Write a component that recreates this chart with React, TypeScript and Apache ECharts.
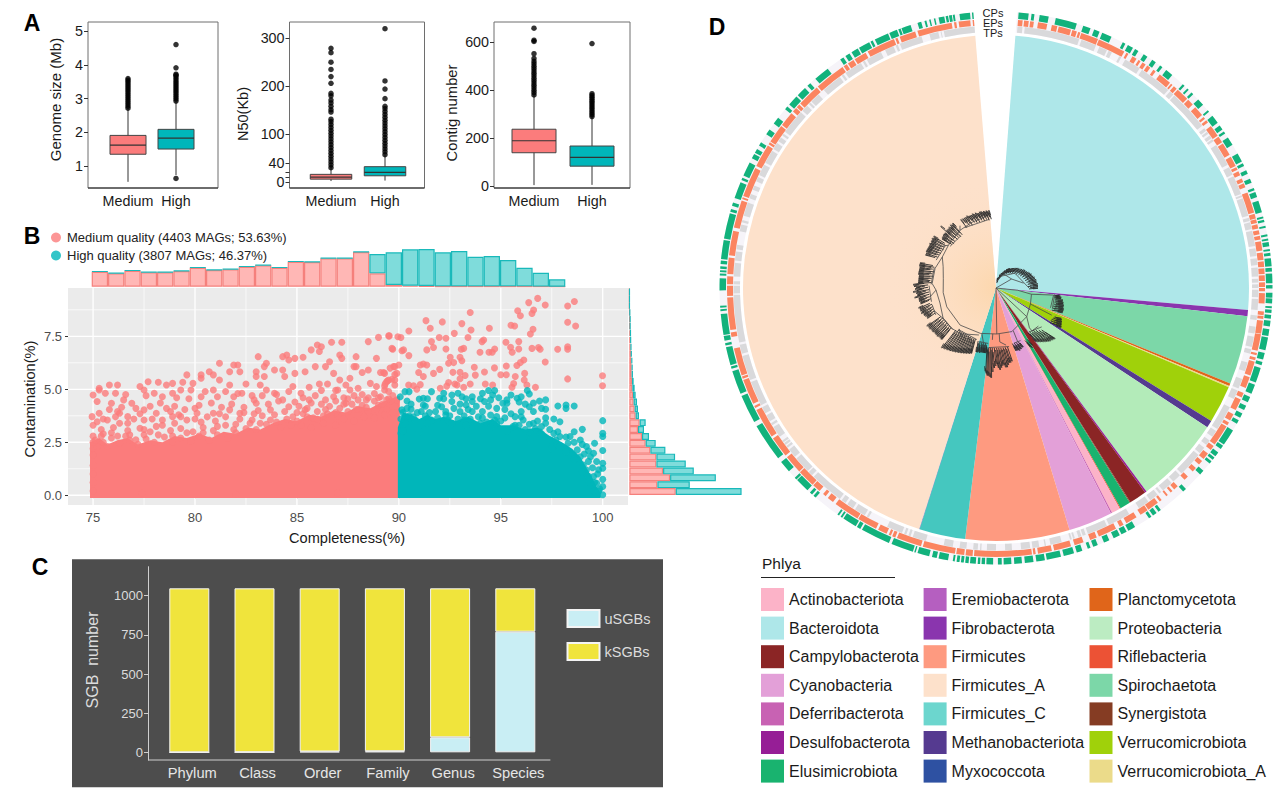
import React, { useEffect, useRef } from "react";
import * as echarts from "echarts";

const FONT = "Liberation Sans";
const PINK = "#fb7c7c";
const TEAL = "#00b6ba";

// ---------- Panel A ----------
const qualityCats = ["Medium", "High"];
const genomeBoxes = [[0, 0.53, 1.35, 1.62, 1.91, 2.71], [1, 0.73, 1.505, 1.83, 2.09, 2.91]];
const genomeOutMedium = [2.72, 2.78, 2.84, 2.9, 2.96, 3.02, 3.08, 3.14, 3.2, 3.26, 3.32, 3.38, 3.44, 3.5, 3.55, 3.6];
const genomeOutHigh = [0.63, 2.93, 2.99, 3.05, 3.11, 3.17, 3.23, 3.29, 3.35, 3.41, 3.47, 3.53, 3.59, 3.65, 3.7, 3.73, 3.92, 4.61];
const n50Boxes = [[0, 2, 6, 10, 16, 32], [1, 3, 13, 20, 32, 56]];
const n50OutMedium = [30, 36, 42, 48, 54, 60, 66, 72, 78, 84, 90, 96, 102, 108, 114, 120, 126, 131, 146, 151, 158, 165, 171, 180, 185, 206, 220, 235, 250, 270, 279];
const n50OutHigh = [57, 63, 69, 75, 81, 87, 93, 99, 105, 111, 117, 123, 129, 135, 141, 147, 153, 158, 174, 194, 211, 320];
const contigBoxes = [[0, 4, 139, 189, 237, 378], [1, 5, 83, 120, 167, 288]];
const contigOutMedium = [380, 390, 400, 410, 420, 430, 440, 450, 460, 470, 480, 490, 500, 510, 520, 532, 552, 603, 608, 658];
const contigOutHigh = [290, 298, 306, 314, 322, 330, 338, 346, 354, 362, 370, 378, 385, 594];
const n50TickValues = [0, 10, 20, 40, 100, 200, 300];
const n50LabelValues = [0, 40, 100, 200, 300];

// ---------- Panel B ----------
const completenessTicks = [75, 80, 85, 90, 95, 100];
const completenessMinor = [77.5, 82.5, 87.5, 92.5, 97.5];
const contaminationTicks = [0, 2.5, 5, 7.5];
const contaminationMinor = [1.25, 3.75, 6.25, 8.75];
const mediumMassTop = [[74.85, 2.5], [75.3, 2.7], [75.7, 2.4], [76.2, 2.6], [76.7, 2.7], [77.2, 2.4], [77.8, 2.6], [78.4, 2.5], [79, 2.8], [79.6, 2.7], [80.2, 2.9], [80.8, 2.7], [81.4, 3], [82, 2.9], [82.6, 3.2], [83.2, 3.1], [83.8, 3.4], [84.4, 3.6], [85, 3.5], [85.6, 3.8], [86.2, 3.7], [86.8, 4], [87.4, 3.9], [88, 4.2], [88.6, 4.1], [89.2, 4.4], [90.05, 4.7]];
const highMassTop = [[89.95, 3.2], [90.2, 3.9], [90.6, 3.8], [91, 3.6], [91.4, 3.8], [91.8, 3.6], [92.2, 3.7], [92.8, 3.5], [93.4, 3.7], [94, 3.4], [94.6, 3.6], [95, 3.3], [95.6, 3.3], [96.2, 3.1], [96.8, 3.2], [97.4, 2.8], [98, 2.5], [98.5, 2.2], [98.9, 1.8], [99.2, 1.3], [99.5, 0.8], [99.7, 0.4], [99.9, 0.1]];
const mediumPoints = [
  [75.3, 4.97], [75, 4.73], [75.3, 5.05], [75.8, 5.2], [76.2, 5.2], [75.6, 4.81], [76.1, 4.81], [75.9, 4.34], [76.5, 4.5], [76.9, 4.34], [77.1, 4.1], [75.2, 4.42], [74.95, 3.71], [75.3, 3.87], [75.7, 3.55], [75.2, 3.47], [76.3, 3.87], [76.7, 3.71], [77.5, 4.03], [77.3, 5.13], [77.7, 5.36], [77.5, 4.97], [78, 4.81], [78.2, 5.33], [78.6, 5.2], [78.9, 5.28], [79.4, 5.33], [79.6, 5.68], [78.9, 4.81], [79.3, 4.97], [79.8, 4.97], [80.3, 5.52], [80.3, 5.68], [79.9, 5.28], [80.7, 5.83], [81.2, 6.23], [80.9, 5.68], [81.2, 5.44], [81.7, 5.2], [81.9, 6.15], [82.1, 6.15], [82.2, 5.83], [81.7, 5.83], [82.5, 5.25], [82.3, 4.81], [83.1, 6.54], [83.4, 6.07], [83.5, 6.23], [83, 5.83], [83, 5.6], [83.4, 5.6], [83.2, 5.2], [83.9, 5.91], [84.3, 6.54], [84.5, 6.62], [84.3, 5.91], [84.6, 6.38], [84.9, 6.46], [85.3, 6.51], [84.4, 5.6], [84.9, 5.75], [84.8, 5.13], [85.4, 5.83], [85.7, 6.86], [86, 7.09], [86.2, 7.01], [86.1, 6.78], [85.9, 6.07], [86.4, 6.07], [86.6, 6.3], [86.7, 7.22], [87.2, 7.22], [87.1, 6.62], [87.2, 6.46], [87.9, 6.54], [87.8, 6.07], [87.9, 6.07], [88.2, 5.79], [88.5, 7.25], [89, 7.45], [89.5, 7.52], [89.7, 6.89], [88.9, 6.46], [88.5, 5.91], [89.3, 5.75], [89.8, 6.07], [90, 6.15], [89.95, 7.48], [89.4, 5.36], [89.8, 5.44],
  [86.8, 5.75], [87.1, 5.44], [87.6, 5.52], [86.1, 5.25], [86.5, 5.25], [87, 4.97], [87.6, 4.97], [88, 5.05], [88.6, 5.28], [88.9, 5.13], [89.3, 4.97], [89.8, 5.2], [86.8, 4.65], [85.2, 4.81], [84.3, 4.5], [85.6, 4.5], [83.9, 4.81], [83.5, 4.97], [82.9, 4.5], [81.9, 4.65], [81.1, 4.65], [80.9, 4.97], [80.3, 4.65], [80, 4.1], [78.6, 4.1], [78.1, 3.87], [77.5, 3.55], [77.3, 3.16], [76.7, 3.4], [76.3, 3.4], [75.9, 2.95], [75.4, 2.79], [75, 2.79], [75.2, 2.3], [75.7, 2.3], [76.6, 2.79], [77.1, 2.62], [77.8, 3.0], [78.4, 3.3], [78.9, 3.71], [79.3, 3.71], [80.1, 3.87], [80.9, 3.87], [81.7, 4.03], [82.2, 3.87], [83, 4.34], [83.7, 4.03], [84.6, 4.18], [85.4, 4.03], [86.4, 4.5], [87.4, 4.34], [88.4, 4.5], [89.4, 4.5],
  [75.1, 2.6], [75.5, 2.5], [75.9, 2.7], [76.3, 2.45], [76.8, 2.6], [77.2, 2.4], [77.6, 2.65], [78, 2.5], [78.5, 2.75], [78.9, 2.5], [79.3, 2.7], [79.8, 2.55], [80.2, 2.8], [80.7, 2.6], [81.1, 2.85], [81.6, 2.7], [82, 2.95], [75.4, 3.1], [76, 3.2], [76.7, 3.05], [77.5, 3.1], [78.1, 3.25], [78.8, 3.05], [79.3, 3.15], [79.9, 3], [80.4, 3.2], [80.9, 3.05], [81.5, 3.3], [82, 3.35], [82.5, 3.15], [83, 3.1], [83.5, 3.35], [84, 3.45], [84.5, 3.6], [85, 3.5], [85.5, 3.7], [86, 3.6], [86.5, 3.85], [87, 3.75], [87.5, 3.95], [88, 4.05], [88.5, 3.95], [89, 4.25], [89.6, 4.45],
  [75.5, 3.6], [76.1, 3.7], [77, 3.6], [77.9, 3.6], [78.4, 3.55], [79, 3.4], [79.6, 3.55], [80.3, 3.45], [81, 3.5], [81.5, 3.7], [82.2, 3.6], [82.8, 3.55], [83.3, 3.75], [83.9, 3.8], [84.4, 3.95], [85, 3.9], [85.5, 4.1], [86, 3.95], [86.6, 4.2], [87.1, 4.1], [87.7, 4.3], [88.2, 4.25], [88.8, 4.45], [89.2, 4.3], [89.7, 4.7],
  [75.8, 4.05], [76.4, 4.15], [77.8, 4.2], [78.3, 4.35], [79, 4.2], [79.5, 4.05], [80.2, 4.25], [80.8, 4.35], [81.3, 4.15], [81.8, 4.3], [82.4, 4.15], [83.1, 4], [83.6, 4.3], [84.1, 4.45], [84.9, 4.4], [85.3, 4.6], [85.9, 4.7], [86.2, 4.3], [86.9, 4.95], [87.3, 4.6], [87.8, 4.7], [88.2, 4.75], [88.8, 4.8], [89.1, 4.65], [89.5, 4.9],
  [76.6, 4.75], [77.6, 4.7], [78.4, 4.65], [79.1, 4.6], [79.7, 4.55], [80.5, 4.9], [81.5, 4.9], [82.1, 4.8], [82.8, 4.7], [83.3, 4.7], [84, 4.75], [84.6, 4.9], [85.6, 5.1], [86.2, 4.95], [87.4, 5.2],
  [84.8, 3.7], [85.3, 3.85], [85.8, 3.65], [86.3, 3.75], [86.9, 3.9], [87.3, 4.3], [87.9, 4.05], [88.4, 4.15], [88.9, 4.05], [89.4, 4.05], [89.8, 4.2], [84.2, 3.2], [84.7, 3.3], [85.2, 3.3], [85.7, 3.2], [86.3, 3.4], [86.9, 3.3], [87.3, 3.6], [87.8, 3.5], [88.3, 3.7], [88.8, 3.65], [89.3, 3.8], [89.7, 3.9], [85.1, 4.2], [85.7, 4.35], [86.4, 4.05], [86.9, 4.45], [87.5, 4.55], [88, 4.5], [88.5, 4.6], [89, 4.6], [89.5, 4.55], [89.9, 4.5], [82.9, 3.85], [82.4, 3.9], [81.2, 3.85], [80.6, 3.7], [80, 3.6], [79.2, 3.8], [78.8, 3.95], [77.3, 3.85], [76.2, 3.95],
  [83.2, 3.4], [83.7, 3.55], [82.7, 3.4], [81.9, 3.1], [81.1, 3.25], [80.4, 2.95], [79.6, 2.95], [78.9, 2.8], [78.2, 2.85], [77.5, 2.85], [76.8, 2.85], [76.2, 2.8], [75.5, 2.9], [75, 3.3], [75, 2.5], [75, 2.2], [75, 1.9], [75, 1.4], [75, 1], [75, 0.6], [75, 0.2], [77.4, 0.1], [82, 0.05], [87, 0.1],
  [89.53, 7.52], [90.1, 7.44], [90.49, 7.75], [89.66, 6.93], [90.23, 6.86], [90.15, 6.82], [90.49, 6.59], [89.1, 5.79], [89.45, 5.4], [89.8, 5.7], [89.9, 5.75], [89.3, 5.15],
  [96.81, 9.29], [96.37, 9.09], [97.18, 8.98], [98.28, 8.93], [98.61, 9.14], [95.83, 8.71], [95.96, 8.47], [96.61, 8.74], [96.53, 8.58], [93.5, 8.62], [91.33, 8.24], [92.13, 8.18], [91.54, 7.88], [93.09, 8.1], [93.54, 7.8], [92.72, 7.64], [93.39, 7.44], [94.16, 7.33], [94.08, 7.25], [94.44, 7.88], [95.5, 8.02], [95.68, 7.99], [96.58, 7.83], [96.45, 7.61], [98.28, 8.16], [98.67, 7.99], [91.98, 7.44], [92.31, 7.41], [91.6, 7.25], [91.7, 6.97], [91.37, 6.86], [92.31, 6.9], [93.18, 6.93], [93.06, 6.89], [94.42, 6.75], [94.58, 6.75], [94.7, 6.9], [93.98, 6.75], [95.25, 7.22], [95.88, 7.25], [95.48, 6.98], [95.56, 6.75], [95.88, 6.9], [96.53, 6.93], [96.85, 6.97], [96.93, 6.89], [97.79, 6.89], [98.28, 7.01], [98.28, 6.89], [92.52, 6.51], [93.0, 6.51], [91.2, 6.19], [91.37, 6.15], [91.05, 6.15], [90.97, 5.79], [91.2, 5.6], [91.7, 5.75], [92, 5.94], [92.44, 6.23], [92.69, 6.26], [93.09, 6.35], [93.7, 6.04], [94.2, 5.82], [94.69, 6.01], [95.27, 6.1], [95.79, 6.12], [95.96, 6.26], [96.13, 6.38], [97.18, 6.29], [99.99, 5.64], [99.99, 5.17], [98.28, 5.49], [96.17, 5.75], [95.71, 5.6], [95.63, 5.27], [95.55, 5.1], [95.27, 5.69], [95, 5.69], [96.15, 5.44], [96.28, 5.2], [96.7, 5.1], [92.65, 5.8], [93, 5.8], [93.25, 5.65], [93.75, 5.67], [93, 5.5], [92.75, 5.25], [92.44, 5.32], [92.35, 5.15], [92.03, 5.05], [90.48, 5.2], [90.72, 5.17], [91.05, 5.22], [90.88, 5], [92.85, 5.2], [93.18, 5.1], [93.5, 5.25], [94.24, 5.25], [94.6, 5.2], [89.74, 6.07], [89.57, 6], [89.25, 5.79], [89.5, 5.44], [89.66, 5.47], [89.33, 5.26]
];
const highPoints = [
  [90.07, 4.65], [90.3, 4.89], [90.5, 4.89], [91, 4.54], [91.6, 4.89], [92.2, 4.81], [91.2, 4.58], [92, 4.58], [92.6, 4.73], [92.9, 4.81], [93.1, 4.65], [93.6, 4.65], [94.1, 4.81], [94.4, 4.94], [94.7, 4.94], [94.6, 4.73], [94.5, 4.5], [93.3, 4.26], [93.6, 4.42], [94.2, 4.42], [95.1, 4.34], [95.3, 4.34], [95.5, 4.73], [95.8, 4.58], [96, 4.65], [96.3, 4.94], [96.4, 4.78], [96.9, 4.45], [97.2, 4.5], [97.8, 4.21], [98.2, 4.26], [98.6, 4.21], [98.2, 4.1], [96.4, 4.18], [96.6, 3.95], [97, 4.1], [97.2, 4.06], [91.2, 4.26], [91.1, 3.95], [90.15, 4.03], [90.4, 4.1], [90.6, 4.06], [91.8, 3.95], [92.1, 4.18], [92.6, 4.42], [93, 3.95], [93.6, 3.95], [94.5, 3.79], [94.8, 3.71], [95.7, 3.71], [96.1, 3.55], [96.6, 3.4], [97.6, 3.6], [97.9, 3.47], [100, 3.52], [99, 3.11], [98.6, 3], [97.9, 2.77], [97.6, 2.92], [100, 2.92], [100, 2.77], [99.6, 2.45], [100, 2.11], [99.2, 2.3], [98.9, 2.61], [98.4, 2.77], [97.2, 3.4], [97, 3.24], [96.4, 3], [95.6, 3.24], [94.8, 3.4], [94, 3.4], [93.2, 3.55], [92.4, 3.55], [91.6, 3.55], [90.8, 3.55], [90.3, 3.4], [90.1, 2.92],
  [99.55, 1.98], [99.4, 1.82], [100, 1.51], [100, 1.27], [99.7, 1.59], [100, 0.75], [100, 0.41], [100, 0.02], [99.7, 0.57], [99.55, 0.88], [99.2, 1.19], [99.05, 1.43], [98.9, 1.82], [98.75, 2.14], [98.3, 2.45], [97.9, 2.3], [97.45, 2.61], [96.45, 2.61], [90.2, 3.05], [90.5, 3.75], [91.3, 3.75], [92.3, 3.8], [93.2, 3.75], [94.1, 3.65], [95, 3.5], [95.9, 3.3], [96.9, 3], [97.7, 2.6], [99.3, 1.6], [99.75, 1.0], [99.85, 0.3], [99.6, 0.2], [99.35, 0.6],
  [90.2, 3.9], [90.6, 4.3], [90.9, 3.9], [91.3, 4.2], [91.5, 3.9], [91.9, 4.25], [92.3, 3.95], [92.7, 4.1], [93, 4.3], [93.4, 4.05], [93.8, 4.2], [94.1, 3.95], [94.4, 4.2], [94.8, 4.1], [95.2, 4.05], [95.5, 3.85], [96, 3.95], [96.2, 4.3], [90.1, 3.6], [90.7, 3.7], [91.4, 3.4], [91.9, 3.65], [92.5, 3.75], [92.9, 3.6], [93.5, 3.6], [93.9, 3.7], [94.3, 3.45], [94.7, 3.55], [95.2, 3.65], [95.7, 3.3], [96, 3.7], [96.4, 3.35], [96.8, 3.5], [97.2, 3.65], [97, 2.9], [97.4, 3.1], [97.8, 3], [98.2, 2.75], [98.6, 2.5], [99, 2.4], [99.3, 2.1], [99.1, 1.95], [90.4, 4.45], [91.4, 4.55], [92.2, 4.55], [93.3, 4.55], [94, 4.55], [94.9, 4.6], [95.3, 4.5], [95.9, 4.4], [96.6, 4.35], [92.6, 3.4], [93.3, 3.3], [94.5, 3.2], [95.3, 3.05], [96.2, 3.1], [96.7, 3.15], [91, 3], [97.5, 2.2], [98.2, 2.05], [98.6, 1.7], [99, 1.1], [99.3, 0.9], [99.5, 1.3], [99.6, 0.6], [99.8, 1.2], [99.8, 0.2]
];
const topMedium = [135, 120, 144, 129, 129, 141, 171, 150, 156, 180, 192, 171, 225, 222, 255, 255, 312, 120, 15, 9, 6, 3, 3, 3, 3, 3, 3, 1, 0];
const topHigh = [4, 4, 4, 4, 4, 4, 4, 4, 4, 4, 4, 4, 4, 4, 4, 4, 4, 174, 294, 327, 333, 306, 318, 267, 273, 237, 168, 125, 66];
const sideMedium = [417, 252, 366, 303, 243, 243, 189, 147, 114, 78, 93, 57, 48, 39, 33, 27, 24, 21, 21, 18, 15, 12, 9, 9, 6, 6, 3, 0, 0, 0];
const sideHigh = [591, 291, 411, 276, 264, 168, 135, 90, 63, 54, 54, 30, 30, 30, 24, 21, 15, 12, 9, 9, 6, 6, 6, 3, 3, 3, 3, 3, 3, 3];

// ---------- Panel C ----------
const levels = ["Phylum", "Class", "Order", "Family", "Genus", "Species"];
const uSGBs = [0, 1, 5, 7, 96, 770];
const kSGBs = [1047, 1046, 1042, 1040, 951, 277];
const sgbTicks = [0, 250, 500, 750, 1000];

// ---------- Panel D ----------
const phylaOrder = [
  ["Bacteroidota", 90.6, "#aee7e9"], ["Fibrobacterota", 1.4, "#8a35ae"], ["Spirochaetota", 15.8, "#7cd7a8"], ["Planctomycetota", 0.6, "#e0651a"],
  ["Verrucomicrobiota_A", 0.3, "#ebdb8a"], ["Verrucomicrobiota", 8.6, "#a0d10a"], ["Methanobacteriota", 1.7, "#553a90"], ["Proteobacteria", 20.1, "#b3ebb9"],
  ["Desulfobacterota", 0.4, "#961e96"], ["Campylobacterota", 4, "#8b2525"], ["Synergistota", 0.2, "#853c23"], ["Elusimicrobiota", 2.4, "#19b36f"],
  ["Riflebacteria", 0.2, "#ec5235"], ["Actinobacteriota", 2, "#fcb3c8"], ["Deferribacterota", 0.3, "#c862b3"], ["Cyanobacteria", 10.1, "#e3a0d8"],
  ["Firmicutes", 23.9, "#fe9a80"], ["Firmicutes_C", 10.6, "#45c7bf"], ["Eremiobacterota", 0.05, "#b55fc0"], ["Myxococcota", 0.05, "#2e51a2"],
  ["Firmicutes_A", 157.6, "#fde1cb"], ["", 9.1, "rgba(0,0,0,0)"]
];
const legendColumns = [
  [["Actinobacteriota", "#fcb3c8"], ["Bacteroidota", "#aee7e9"], ["Campylobacterota", "#8b2525"], ["Cyanobacteria", "#e3a0d8"], ["Deferribacterota", "#c862b3"], ["Desulfobacterota", "#961e96"], ["Elusimicrobiota", "#19b36f"]],
  [["Eremiobacterota", "#b55fc0"], ["Fibrobacterota", "#8a35ae"], ["Firmicutes", "#fe9a80"], ["Firmicutes_A", "#fde1cb"], ["Firmicutes_C", "#6cd6ce"], ["Methanobacteriota", "#553a90"], ["Myxococcota", "#2e51a2"]],
  [["Planctomycetota", "#e0651a"], ["Proteobacteria", "#bcecc2"], ["Riflebacteria", "#ec5235"], ["Spirochaetota", "#7cd7a8"], ["Synergistota", "#853c23"], ["Verrucomicrobiota", "#a0d10a"], ["Verrucomicrobiota_A", "#ebdb8a"]]
];
const ringTrack = [[4.4, 355.3]];
const greyRuns = [[4.7, 5.8], [6.3, 18.5], [19, 22.4], [23.2, 25], [25.4, 26.2], [28, 28.5], [29.5, 33.2], [33.8, 41], [41.5, 42.5], [42.8, 51.8], [52.5, 53.2], [53.5, 54], [54.5, 55.2], [55.5, 56], [57, 62], [62.6, 64.4], [64.8, 69], [69.3, 69.7], [70, 74], [74.5, 75.2], [75.5, 77], [77.4, 80.8], [81.3, 83], [83.5, 85], [85.5, 87.5], [88, 88.8], [89.2, 90], [90.4, 92], [92.4, 94.8], [96, 97], [98.5, 100], [100.7, 103], [103.5, 104.5], [106.5, 108.5], [110.3, 112.5], [113, 115], [117, 122.5], [123, 124.5], [125.5, 126.7], [127.5, 129], [129.5, 135], [135.5, 137.5], [138, 140.5], [141, 141.5], [142, 144], [144.5, 147], [149.5, 154.5], [155, 159.5], [160, 160.7], [161, 161.7], [162.5, 162.9], [163.2, 163.6], [165.5, 168], [169, 169.3], [170.5, 172], [172.5, 174.5], [176.5, 178], [180, 182], [183.2, 183.5], [184, 185], [186.5, 188], [189.5, 191.5], [195.5, 198.5], [199, 199.5], [200, 200.5], [201, 204.5], [209, 209.5], [210, 212.5], [213, 214.5], [215, 216], [216.5, 224], [224.5, 225.5], [225.8, 229.5], [230, 232], [232.5, 233], [233.3, 233.8], [234, 234.5], [235.5, 238], [238.5, 239], [239.5, 241], [241.5, 243], [243.5, 249], [249.5, 255], [255.5, 257.5], [258, 268.5], [268.8, 270.5], [270.8, 271.5], [272.5, 275.5], [276, 278], [278.5, 279.5], [282.5, 284], [284.5, 285], [286, 289], [290, 291], [292, 293], [294, 295], [295.5, 298], [298.5, 301.5], [302, 303.5], [304, 305], [305.5, 306], [306.5, 312], [312.5, 314], [314.5, 315], [315.3, 317.5], [319, 323.5], [324, 324.5], [325, 329], [329.5, 330], [330.5, 334], [335, 337], [337.5, 338], [338.5, 343.5], [345.3, 347.3], [347.8, 348], [348.5, 355.3]];
const orangeRuns = [[4.7, 5.7], [6, 7], [7.3, 8.1], [9, 11], [12, 13.2], [13.5, 16.2], [16.5, 17.5], [17.8, 18.3], [18.5, 22.3], [22.5, 28.5], [29, 29.5], [30.5, 31.5], [32, 32.5], [33, 33.8], [34.2, 35], [35.8, 36.4], [37.5, 40.3], [40.6, 41], [41.4, 42.2], [42.5, 45.3], [45.6, 47], [47.8, 50], [50.5, 51], [51.4, 52], [53, 55.5], [55.8, 57.2], [57.5, 60.3], [60.8, 63], [63.3, 63.9], [64.3, 65.2], [66, 66.8], [67.1, 68], [69.2, 73.7], [74, 75], [75.2, 76], [76.3, 77.2], [77.6, 78.5], [78.8, 79.6], [80, 82], [82.4, 84], [84.3, 85.5], [85.8, 87], [87.3, 88.5], [88.8, 89.8], [90, 90.7], [91.1, 93.3], [95, 95.8], [96, 96.6], [97, 99.8], [99.9, 103.5], [104, 104.5], [105, 105.6], [105.9, 109], [109.4, 111.8], [113, 114], [114.5, 117], [118, 119.5], [120, 120.7], [121, 125.6], [126, 127], [128, 129.5], [130, 131], [132, 133], [134.5, 135.5], [137.5, 138.5], [139, 139.5], [140.3, 140.7], [142, 142.5], [143, 145.5], [145.7, 147.5], [148.5, 151], [151.7, 152.6], [153.5, 157.5], [158, 159.5], [161, 163], [163.8, 167.5], [168, 171], [171.5, 172], [172.3, 184.7], [185, 186.5], [186.8, 188.5], [188.8, 195.8], [196.2, 201.6], [202, 202.7], [203, 203.5], [204, 206], [206.5, 210.8], [211, 216.6], [217.3, 218.7], [219.3, 220], [221, 222.8], [223, 226.8], [227, 231], [231.5, 236], [236.5, 243], [243.5, 244], [244.5, 250], [250.3, 250.8], [251, 257], [259.5, 260.5], [261, 268], [268.3, 270.5], [270.8, 272.5], [273, 276.5], [277, 282.3], [283, 289], [289.3, 289.7], [290, 296.5], [297, 302], [302.3, 302.8], [303, 307], [307.3, 310.5], [311, 312], [312.2, 313], [313.3, 318.2], [318.5, 325.2], [325.5, 326.3], [326.6, 328], [328.3, 331], [331.5, 337.7], [338, 338.5], [339, 342.5], [343, 350.5], [351, 351.5], [352, 354.5], [355, 355.3]];
const greenRuns = [[4.7, 6.8], [7.4, 8], [9.1, 11], [12.5, 17], [18.4, 20], [20.8, 22], [22.6, 24.7], [27.3, 27.9], [28.5, 29.7], [30.2, 31], [32.3, 33.2], [34.4, 35.3], [36.4, 37], [38, 39.6], [42.5, 43], [43.8, 44.2], [45, 45.5], [47, 48.5], [50, 50.4], [51.5, 53.3], [54, 55], [55.5, 56], [57, 58.8], [60.9, 62.8], [63.2, 63.8], [64.8, 65.6], [66.7, 67.6], [68.8, 69.3], [69.7, 70.8], [71.6, 74.1], [75, 75.4], [75.7, 76.2], [77, 77.4], [78.8, 79.2], [79.7, 80.1], [80.4, 81.3], [81.9, 82.3], [82.7, 83.3], [83.8, 85.5], [85.8, 86.6], [87, 89], [89.4, 90.1], [91, 92], [92.2, 93.2], [93.8, 94.2], [94.5, 95.2], [95.6, 96.4], [96.8, 98], [98.6, 100], [100.3, 103], [103.6, 105], [105.5, 106.2], [106.8, 110], [110.5, 112.5], [113.2, 114.4], [115.2, 116.2], [117, 118], [118.6, 119.4], [121, 124.5], [124.8, 125.6], [126.5, 127.5], [127.8, 128.4], [128.8, 129.4], [131.4, 132.4], [136.6, 137.4], [143.4, 144], [144.5, 145.4], [145.8, 146.4], [149.8, 151.4], [151.8, 153], [153.4, 154.8], [155.8, 157], [158.4, 159.4], [160, 160.6], [161.8, 163], [163.6, 165.8], [166.4, 169.4], [169.8, 171.6], [172.2, 174], [174.6, 176.2], [176.8, 178.4], [178.8, 179.6], [180.6, 182], [182.3, 183], [183.3, 183.8], [184.2, 185.4], [185.7, 186.4], [186.7, 187.3], [187.6, 188.2], [188.6, 189], [190, 192], [192.4, 193.4], [194, 196.5], [196.9, 197.2], [197.5, 202.2], [202.8, 209], [209.4, 210.2], [210.5, 213.5], [213.8, 214.2], [214.6, 215], [220.7, 221.3], [221.7, 222.3], [223, 226], [226.2, 226.7], [228.5, 231], [232, 240], [241, 247], [247.5, 252.5], [253, 253.5], [253.8, 257.6], [258, 258.5], [259, 260], [260.2, 264.6], [265.2, 265.6], [265.9, 266.3], [269.5, 272], [272.6, 273], [273.3, 273.7], [274, 274.5], [275, 275.7], [276, 280], [280.3, 285.7], [286, 286.6], [287.3, 288], [289, 292.5], [293, 293.5], [294, 297], [298, 299], [299.3, 300.2], [301, 301.8], [303.8, 305], [306.5, 308], [310.3, 311], [311.6, 313.8], [314.2, 316.3], [317, 317.8], [319.2, 322.5], [325.7, 326.5], [327, 328], [328.5, 330], [330.3, 332.7], [333, 333.5], [334, 337], [337.3, 339], [339.3, 339.8], [340, 342], [343.5, 344.3], [345, 345.4], [346, 346.3], [347, 347.3], [348, 349.2], [349.5, 350], [350.2, 350.8], [351, 351.4], [352.4, 354.6], [355, 355.3]];
// tree tips: angle (deg clockwise from top), inner radius, outer radius
const treeTips = [
  [354.5, 69, 78], [353.5, 71, 77], [352.6, 68, 78], [351.6, 71, 77], [350.6, 69, 78], [349.7, 72, 77], [348.7, 68, 78], [347.6, 71, 78], [346.6, 69, 77], [345.6, 72, 77], [344.5, 68, 78], [343.4, 70, 77], [342.3, 68, 78], [341.2, 72, 77], [340.2, 69, 77], [339, 71, 77], [337.8, 67, 78], [336.6, 70, 77], [335.4, 68, 77], [334, 71, 77], [332.6, 67, 77],
  [326, 63, 78], [325, 66, 77], [324, 62, 78], [323, 65, 76], [322, 63, 77], [321, 66, 76], [320, 62, 76], [319, 65, 76], [318, 66, 83], [317, 62, 75], [316, 65, 75], [315, 61, 75], [314, 64, 74], [313, 62, 74], [312.2, 64, 73],
  [309.5, 68, 81], [308.5, 66, 80], [307.5, 69, 81], [306.5, 66, 80], [305.5, 68, 80], [304.5, 65, 79], [303.5, 68, 80], [302.5, 66, 79], [301.5, 68, 79], [300.5, 65, 79], [299.5, 68, 79], [298.5, 66, 79], [297.5, 68, 79], [296.3, 66, 78], [295, 68, 78],
  [288, 67, 80], [287, 65, 80], [286, 68, 80], [285, 66, 79], [284, 68, 79], [283, 64, 79], [282, 67, 79], [281, 65, 79], [280, 68, 79], [279, 64, 78], [278, 67, 78], [277, 65, 78], [276, 68, 78], [275, 66, 78], [274, 67, 78], [273.2, 65, 78],
  [272, 72, 83], [271, 68, 82], [270, 71, 80], [269, 68, 81], [268, 72, 79], [267, 67, 83], [266, 70, 80], [265, 67, 79], [264, 71, 79], [263, 67, 82], [262, 70, 78], [261, 67, 78], [260, 70, 78], [259, 66, 77], [258, 68, 77],
  [255.3, 68, 80], [254.2, 66, 79], [253, 69, 79], [252, 66, 78], [251, 68, 79], [250, 66, 77], [249, 68, 77], [248, 66, 76], [247, 68, 75], [246, 66, 75],
  [241, 62, 79], [240, 65, 78], [239, 61, 78], [238, 64, 78], [237, 61, 77], [236, 63, 77], [235, 60, 77], [234, 63, 76], [233, 60, 76], [232, 62, 76], [231, 60, 76], [230, 63, 76], [229, 60, 75], [228, 62, 75], [227, 60, 75], [226.3, 62, 75],
  [222, 58, 81], [221, 60, 80], [220, 56, 80], [219, 60, 79], [218, 56, 79], [217, 59, 78], [216, 55, 78], [215, 58, 77], [214, 55, 77], [213, 58, 76], [212, 55, 76], [211, 57, 75], [210, 55, 75], [209, 58, 74], [208, 55, 74], [207, 57, 73], [206, 55, 73], [205, 57, 72], [204, 55, 72], [203, 57, 71], [202, 55, 71], [201, 57, 70], [200.4, 55, 70],
  [197, 56, 67], [196, 58, 67], [195, 56, 66], [194, 59, 67], [193, 56, 66], [192, 58, 66], [191, 56, 66], [190, 58, 66], [189, 56, 66], [188, 58, 65],
  [187, 60, 84], [186.2, 62, 86], [185.4, 60, 88], [184.6, 64, 88], [183.8, 60, 89], [182.8, 62, 90], [182, 60, 84], [181, 64, 80], [180, 60, 78], [178.8, 62, 76], [177.8, 60, 80], [176.8, 62, 82], [175.8, 60, 80], [174.8, 62, 78], [173.8, 60, 77], [172.6, 62, 80], [171.6, 60, 80], [170.6, 62, 78], [169.6, 60, 76], [168.6, 62, 76], [167.4, 60, 75],
  [162, 58, 66], [161, 60, 66], [160, 58, 66], [159, 60, 67], [158, 58, 66], [157, 60, 66], [156, 58, 65], [155, 60, 65],
  [149.5, 60, 68], [148.4, 62, 70], [147.2, 60, 68],
  [143, 55, 67], [142, 57, 68], [141, 55, 69], [140, 58, 70], [139, 56, 71], [138, 58, 72], [137, 56, 73], [136, 60, 74], [135, 58, 75], [134, 62, 76], [133, 60, 76], [132, 64, 77], [131, 62, 77], [130.4, 66, 78],
  [121, 64, 76], [120.2, 67, 76], [119.4, 64, 75], [118.6, 67, 75], [117.8, 64, 74], [117, 67, 74], [116.2, 65, 73], [115.4, 68, 73], [114.8, 66, 72],
  [110, 60, 71], [109, 62, 71], [108, 60, 71], [107, 62, 71], [106, 60, 70], [105, 62, 70], [104, 60, 70], [103, 62, 69], [102, 60, 69], [101, 61, 68], [100, 60, 68], [99, 60, 66], [98, 59, 66], [97, 60, 65], [96.2, 59, 64],
  [90, 33, 42], [88, 34, 42], [86, 32, 42], [84, 34, 42], [82, 32, 41], [80, 33, 41], [78, 31, 41], [76, 33, 40], [74, 30, 40], [72, 32, 39], [70, 29, 38], [68, 31, 38], [66, 28, 37], [64, 30, 36], [62, 27, 35], [60, 28, 34], [58, 26, 34], [56, 27, 33], [54, 24, 32], [52, 26, 31], [50, 23, 30], [48, 24, 30], [46, 21, 29], [44, 23, 28], [42, 20, 27], [40, 21, 26], [38, 19, 25], [36, 20, 24], [34, 17, 24], [32, 18, 23], [30, 16, 22], [27, 15, 20], [24, 13, 18], [20, 12, 16], [16, 10, 14], [12, 8, 11], [8, 7, 10]
];
// tree branches: polylines of [radius, angle]
const treeBranches = [
  [[72, 352], [70, 340], [68, 328], [64, 312], [62, 300], [57, 292], [53.5, 280], [53, 265], [52.7, 249], [51.6, 224], [48, 199], [46, 179], [46.4, 160], [42, 133]],
  [[60, 268], [58, 255], [61, 240], [60, 228], [58, 218], [50, 200]],
  [[62, 300], [64, 288], [64, 274], [60, 268]],
  [[68, 328], [72, 330]], [[64, 312], [68, 308]], [[60, 268], [67, 262]], [[61, 240], [66, 250]], [[55, 222], [60, 215]], [[58, 218], [56, 206]],
  [[48, 197], [56, 193]], [[46, 176], [54, 176], [58, 170]], [[52, 184], [46, 184]], [[46, 158], [58, 158]],
  [[42, 133], [52, 140], [56, 140], [57, 132]], [[42, 133], [38, 115], [62, 116]], [[38, 115], [36, 100], [58, 97], [58, 110]], [[36, 100], [22, 96]],
  [[0, 96], [22, 96]], [[0, 133], [42, 133]], [[0, 179], [46, 179]], [[0, 60], [18, 60], [16, 30]], [[18, 60], [28, 80]],
  [[69, 354.5], [68, 332.6]], [[63, 326], [62, 312.2]], [[66, 309.5], [66, 295]], [[65, 288], [65, 273.2]], [[67, 272], [66, 258]], [[66, 255.3], [66, 246]], [[61, 241], [60, 226.3]], [[56, 222], [55, 200.4]], [[56, 197], [56, 188]], [[60, 187], [60, 167.4]], [[58, 162], [58, 155]], [[55, 143], [60, 130.4]], [[64, 121], [66, 114.8]], [[60, 110], [59, 96.2]], [[33, 90], [24, 52]], [[24, 52], [13, 24], [7, 8]]
];
const tipLean = 1.6;

const axisTxt = { fontFamily: FONT, color: "#1a1a1a", fontSize: 14.3 };

function App() {
  const ref = useRef<HTMLDivElement>(null);
  useEffect(() => {
    const chart = echarts.init(ref.current!, undefined, { renderer: "svg" });

    const grids: any[] = [];
    const xAxes: any[] = [];
    const yAxes: any[] = [];
    const series: any[] = [];
    const addGrid = (g: any) => { grids.push({ outerBoundsMode: "none", ...g }); return grids.length - 1; };

    // Panel A
    const boxRender = (boxW: number, fills: string[]) => (params: any, api: any) => {
      const i = api.value(0);
      const [cx, yLow] = api.coord([i, api.value(1)]);
      const yQ1 = api.coord([i, api.value(2)])[1];
      const yMed = api.coord([i, api.value(3)])[1];
      const yQ3 = api.coord([i, api.value(4)])[1];
      const yHigh = api.coord([i, api.value(5)])[1];
      return {
        type: "group",
        children: [
          { type: "line", shape: { x1: cx, y1: yLow, x2: cx, y2: yHigh }, style: { stroke: "#333", lineWidth: 1 } },
          { type: "rect", shape: { x: cx - boxW / 2, y: yQ3, width: boxW, height: yQ1 - yQ3 }, style: { fill: fills[i], stroke: "#444", lineWidth: 1 } },
          { type: "line", shape: { x1: cx - boxW / 2, y1: yMed, x2: cx + boxW / 2, y2: yMed }, style: { stroke: "#333", lineWidth: 1.2 } }
        ]
      };
    };
    const boxPanel = (frame: number[], band: number, center: number, ymin: number, ymax: number, boxW: number, boxes: number[][], outM: number[], outH: number[], tickVals: number[], labelVals: number[]) => {
      addGrid({ left: frame[0], top: 22, width: frame[1] - frame[0], height: 166, show: true, backgroundColor: "#fff", borderColor: "#6e6e6e", borderWidth: 1 });
      const left = center - band / 2;
      const gi = addGrid({ left, top: 22, width: band * 2, height: 166 });
      const xi = xAxes.length; const yi = yAxes.length;
      xAxes.push({ type: "category", gridIndex: gi, data: qualityCats, axisLine: { show: false }, axisTick: { alignWithLabel: true, length: 3, lineStyle: { color: "#333" } }, axisLabel: { ...axisTxt, margin: 6, interval: 0 } });
      yAxes.push({
        type: "value", gridIndex: gi, min: ymin, max: ymax, offset: left - frame[0], splitLine: { show: false }, axisLine: { show: false },
        axisTick: { show: true, length: 4, lineStyle: { color: "#333" }, customValues: tickVals }, axisLabel: { ...axisTxt, margin: 5, customValues: labelVals }
      });
      series.push({ type: "custom", xAxisIndex: xi, yAxisIndex: yi, data: boxes, encode: { x: 0, y: [1, 2, 3, 4, 5] }, renderItem: boxRender(boxW, [PINK, TEAL]), z: 2, silent: true });
      series.push({ type: "scatter", xAxisIndex: xi, yAxisIndex: yi, data: outM.map((v) => [0, v]), symbolSize: 5.5, itemStyle: { color: "#000" }, z: 3, silent: true });
      series.push({ type: "scatter", xAxisIndex: xi, yAxisIndex: yi, data: outH.map((v) => [1, v]), symbolSize: 5.5, itemStyle: { color: "#000" }, z: 3, silent: true });
    };
    boxPanel([88, 218], 48, 128, 0.347, 5.28, 36, genomeBoxes, genomeOutMedium, genomeOutHigh, [1, 2, 3, 4, 5], [1, 2, 3, 4, 5]);
    boxPanel([289.5, 424.5], 54, 331, -12.5, 334, 41.5, n50Boxes, n50OutMedium, n50OutHigh, n50TickValues, n50LabelValues);
    boxPanel([494, 630], 58, 534, -8, 684, 44, contigBoxes, contigOutMedium, contigOutHigh, [0, 200, 400, 600], [0, 200, 400, 600]);

    // Panel B main
    const gScatter = addGrid({ left: 68, top: 288, width: 560, height: 217, show: true, backgroundColor: "#ebebeb", borderWidth: 0 });
    const sx = xAxes.length; const sy = yAxes.length;
    const tick = { length: 3, lineStyle: { color: "#333" } };
    const bLabel = { fontFamily: FONT, color: "#4d4d4d", fontSize: 13 };
    const xMin = 73.77, xMax = 101.24, yMin = -0.46, yMax = 9.78;
    xAxes.push({ type: "value", gridIndex: gScatter, min: xMin, max: xMax, splitLine: { show: false }, axisLine: { show: false }, axisTick: { show: true, ...tick, customValues: completenessTicks }, axisLabel: { ...bLabel, margin: 6, customValues: completenessTicks } });
    yAxes.push({ type: "value", gridIndex: gScatter, min: yMin, max: yMax, splitLine: { show: false }, axisLine: { show: false }, axisTick: { show: true, ...tick, customValues: contaminationTicks }, axisLabel: { ...bLabel, margin: 6, customValues: contaminationTicks, formatter: (v: number) => v.toFixed(1) } });
    const gridLine = (pts: number[][], w: number) => series.push({ type: "line", xAxisIndex: sx, yAxisIndex: sy, data: pts, showSymbol: false, lineStyle: { color: "#fff", width: w }, z: 1, silent: true });
    completenessTicks.forEach((v) => gridLine([[v, yMin], [v, yMax]], 1.3));
    completenessMinor.forEach((v) => gridLine([[v, yMin], [v, yMax]], 0.7));
    contaminationTicks.forEach((v) => gridLine([[xMin, v], [xMax, v]], 1.3));
    contaminationMinor.forEach((v) => gridLine([[xMin, v], [xMax, v]], 0.7));
    series.push({ type: "line", name: "massM", xAxisIndex: sx, yAxisIndex: sy, data: mediumMassTop, showSymbol: false, lineStyle: { width: 0 }, areaStyle: { color: PINK, opacity: 1, origin: -0.13 }, z: 2, silent: true });
    series.push({ type: "scatter", name: "Medium quality (4403 MAGs; 53.63%)", xAxisIndex: sx, yAxisIndex: sy, data: mediumPoints, symbolSize: 7, itemStyle: { color: PINK }, z: 3, silent: true });
    series.push({ type: "line", name: "massH", xAxisIndex: sx, yAxisIndex: sy, data: highMassTop, showSymbol: false, lineStyle: { width: 0 }, areaStyle: { color: TEAL, opacity: 1, origin: -0.13 }, z: 4, silent: true });
    series.push({ type: "scatter", name: "High quality (3807 MAGs; 46.37%)", xAxisIndex: sx, yAxisIndex: sy, data: highPoints, symbolSize: 7, itemStyle: { color: TEAL }, z: 5, silent: true });

    // Top histogram
    const gTop = addGrid({ left: 91.7, top: 246.7, width: 473.6, height: 40 });
    const tx = xAxes.length; const ty = yAxes.length;
    xAxes.push({ type: "category", gridIndex: gTop, data: topMedium.map((_, i) => i), show: false });
    yAxes.push({ type: "value", gridIndex: gTop, min: 0, max: 360, show: false });
    const pinkBar = { color: "#ffb7b5", borderColor: "#f5807c", borderWidth: 1.2 };
    const tealBar = { color: "#7fdcdb", borderColor: "#19b9ba", borderWidth: 1.2 };
    series.push({ type: "bar", xAxisIndex: tx, yAxisIndex: ty, data: topMedium, stack: "top", barCategoryGap: 0, itemStyle: pinkBar, silent: true });
    series.push({ type: "bar", xAxisIndex: tx, yAxisIndex: ty, data: topHigh, stack: "top", barCategoryGap: 0, itemStyle: tealBar, silent: true });

    // Side histogram
    const gSide = addGrid({ left: 629.3, top: 288.3, width: 112.3, height: 206.7 });
    const rx = xAxes.length; const ry = yAxes.length;
    xAxes.push({ type: "value", gridIndex: gSide, min: 0, max: 1008, show: false });
    yAxes.push({ type: "category", gridIndex: gSide, data: sideMedium.map((_, i) => i), show: false });
    series.push({ type: "bar", xAxisIndex: rx, yAxisIndex: ry, data: sideMedium, stack: "side", barCategoryGap: 0, itemStyle: pinkBar, silent: true });
    series.push({ type: "bar", xAxisIndex: rx, yAxisIndex: ry, data: sideHigh, stack: "side", barCategoryGap: 0, itemStyle: tealBar, silent: true });

    // Panel C
    addGrid({ left: 72, top: 559.3, width: 591, height: 228, show: true, backgroundColor: "#4d4d4d", borderWidth: 0 });
    const gBars = addGrid({ left: 156.7, top: 566.7, width: 391.2, height: 193.3 });
    const cx = xAxes.length; const cy = yAxes.length;
    xAxes.push({ type: "category", gridIndex: gBars, data: levels, axisLine: { show: false }, axisTick: { show: false }, axisLabel: { fontFamily: FONT, color: "#e6e6e6", fontSize: 14.7, margin: 5, interval: 0, padding: [0, 0, 0, 6] } });
    yAxes.push({ type: "value", gridIndex: gBars, min: -49, max: 1185, offset: 8.7, splitLine: { show: false }, axisLine: { show: true, lineStyle: { color: "#cfcfcf", width: 1 } }, axisTick: { show: true, length: 4, lineStyle: { color: "#cfcfcf" }, customValues: sgbTicks }, axisLabel: { fontFamily: FONT, color: "#dcdcdc", fontSize: 13, margin: 5, customValues: sgbTicks, formatter: (v: number) => String(v) } });
    const barBorder = { borderColor: "#f4f4f4", borderWidth: 1 };
    series.push({ type: "bar", name: "uSGBs", xAxisIndex: cx, yAxisIndex: cy, data: uSGBs, stack: "sgb", barWidth: 40, itemStyle: { color: "#c9eef4", ...barBorder }, silent: true });
    series.push({ type: "bar", name: "kSGBs", xAxisIndex: cx, yAxisIndex: cy, data: kSGBs, stack: "sgb", barWidth: 40, itemStyle: { color: "#f0e43c", ...barBorder }, silent: true });

    // Panel D
    const center = [996, 288];
    series.push({
      type: "pie", center, radius: [0, 253], startAngle: 85.6, minAngle: 0, avoidLabelOverlap: false, silent: true, z: 2,
      label: { show: false }, labelLine: { show: false }, itemStyle: { borderWidth: 0 },
      data: phylaOrder.map(([name, value, color]) => ({ name, value, itemStyle: { color } }))
    });
    const ringRender = (r0: number, r: number, fill: any) => (params: any, api: any) => {
      const a0 = ((api.value(0) - 90) * Math.PI) / 180;
      const a1 = ((api.value(1) - 90) * Math.PI) / 180;
      return { type: "sector", shape: { cx: params.coordSys.cx, cy: params.coordSys.cy, r0, r, startAngle: a0, endAngle: a1, clockwise: true }, style: { fill } };
    };
    const polarSeries = (data: number[][], r0: number, r: number, fill: any, z: number) =>
      series.push({ type: "custom", coordinateSystem: "polar", polarIndex: 0, data, encode: { angle: [0, 1] }, renderItem: ringRender(r0, r, fill), z, silent: true, clip: false });
    polarSeries(ringTrack, 256, 276.5, "#f6f4f9", 2);
    polarSeries(greyRuns, 256, 262.5, "#d9d9db", 3);
    polarSeries(orangeRuns, 263, 269, "#fb8460", 3);
    polarSeries(greenRuns, 270, 276.5, "#12b27c", 3);
    const glow = new echarts.graphic.RadialGradient(996, 288, 110, [{ offset: 0, color: "rgba(252,214,170,0.9)" }, { offset: 1, color: "rgba(253,225,203,0)" }], true);
    polarSeries([[197.7, 355.2]], 0, 110, glow, 3);
    series.push({
      type: "custom", coordinateSystem: "polar", polarIndex: 0, data: treeTips, encode: { radius: [1, 2], angle: 0 }, z: 4, silent: true, clip: false,
      renderItem: (params: any, api: any) => {
        const a = api.value(0);
        const p0 = api.coord([api.value(1), a + tipLean]);
        const p1 = api.coord([api.value(2), a]);
        const q0 = api.coord([api.value(2) - 5, a + tipLean / 2 + 0.5]);
        const q1 = api.coord([api.value(2), a + 0.5]);
        return {
          type: "group",
          children: [
            { type: "line", shape: { x1: p0[0], y1: p0[1], x2: p1[0], y2: p1[1] }, style: { stroke: "#2a2a2a", lineWidth: 0.9 } },
            { type: "line", shape: { x1: q0[0], y1: q0[1], x2: q1[0], y2: q1[1] }, style: { stroke: "#2a2a2a", lineWidth: 0.8 } }
          ]
        };
      }
    });
    treeBranches.forEach((b) => series.push({ type: "line", coordinateSystem: "polar", polarIndex: 0, data: b, showSymbol: false, lineStyle: { color: "#4a4a4a", width: 0.8 }, z: 4, silent: true }));

    const labelText = (text: string, x: number, y: number, o: any = {}) => ({
      type: "text", x, y, rotation: o.rotation || 0, z: 20, silent: true,
      style: { text, fontFamily: FONT, fontSize: o.size || 14, fontWeight: o.weight || "normal", fill: o.fill || "#1a1a1a", textAlign: o.align || "center", textVerticalAlign: "middle", verticalAlign: "middle" }
    });

    const legends: any[] = [
      { left: 51, top: 231, orient: "vertical", padding: 0, itemWidth: 10, itemHeight: 10, itemGap: 5, icon: "circle", selectedMode: false, data: ["Medium quality (4403 MAGs; 53.63%)", "High quality (3807 MAGs; 46.37%)"], textStyle: { fontFamily: FONT, fontSize: 13, color: "#222", padding: [0, 0, 0, 1] } },
      { left: 566.5, top: 609, orient: "vertical", padding: 0, itemWidth: 32, itemHeight: 17, itemGap: 14, selectedMode: false, icon: "rect", data: ["uSGBs", "kSGBs"], textStyle: { fontFamily: FONT, fontSize: 14.5, color: "#dcdcdc" } }
    ];
    [761, 923.6, 1089.5].forEach((left, i) => {
      legends.push({
        left, top: 588, orient: "vertical", padding: 0, itemWidth: 23, itemHeight: 23, itemGap: 5.6, selectedMode: false, icon: "rect",
        data: legendColumns[i].map(([name, color]) => ({ name, itemStyle: { color } })), textStyle: { fontFamily: FONT, fontSize: 16, color: "#1a1a1a" }
      });
    });

    chart.setOption({
      animation: false,
      backgroundColor: "#fff",
      textStyle: { fontFamily: FONT },
      grid: grids,
      xAxis: xAxes,
      yAxis: yAxes,
      polar: { center, radius: 277 },
      angleAxis: { type: "value", polarIndex: 0, min: 0, max: 360, startAngle: 90, show: false },
      radiusAxis: { type: "value", polarIndex: 0, min: 0, max: 277, show: false },
      legend: legends,
      series,
      graphic: {
        elements: [
          labelText("A", 32, 23, { size: 23, weight: "bold", fill: "#000" }),
          labelText("B", 32, 236, { size: 23, weight: "bold", fill: "#000" }),
          labelText("C", 40, 567, { size: 23, weight: "bold", fill: "#000" }),
          labelText("D", 717, 27, { size: 23, weight: "bold", fill: "#000" }),
          labelText("Genome size (Mb)", 55, 99.5, { rotation: Math.PI / 2, size: 15 }),
          labelText("N50(Kb)", 243, 114, { rotation: Math.PI / 2, size: 14.5 }),
          labelText("Contig number", 452, 113, { rotation: Math.PI / 2, size: 14.8 }),
          labelText("Contamination(%)", 30, 399, { rotation: Math.PI / 2, size: 14.6 }),
          labelText("Completeness(%)", 347, 538, { size: 14.6 }),
          labelText("SGB  number", 92, 660, { rotation: Math.PI / 2, size: 16, fill: "#dcdcdc" }),
          labelText("CPs", 993, 13.3, { size: 11 }),
          labelText("EPs", 993, 23, { size: 11 }),
          labelText("TPs", 993, 32.7, { size: 11 }),
          labelText("Phlya", 762, 563, { size: 15.5, align: "left" }),
          { type: "line", z: 20, silent: true, shape: { x1: 761, y1: 577.5, x2: 895, y2: 577.5 }, style: { stroke: "#222", lineWidth: 1 } },
          { type: "line", z: 20, silent: true, shape: { x1: 148, y1: 760, x2: 550.4, y2: 760 }, style: { stroke: "#cfcfcf", lineWidth: 1 } },
          { type: "line", z: 20, silent: true, shape: { x1: 88, y1: 188, x2: 218, y2: 188 }, style: { stroke: "#222", lineWidth: 1 } },
          { type: "line", z: 20, silent: true, shape: { x1: 289.5, y1: 188, x2: 424.5, y2: 188 }, style: { stroke: "#222", lineWidth: 1 } },
          { type: "line", z: 20, silent: true, shape: { x1: 494, y1: 188, x2: 630, y2: 188 }, style: { stroke: "#222", lineWidth: 1 } }
        ]
      }
    });
    return () => chart.dispose();
  }, []);
  return <div ref={ref} style={{ position: "absolute", left: 0, top: 0, width: 1288, height: 796 }} />;
}

export default App;
